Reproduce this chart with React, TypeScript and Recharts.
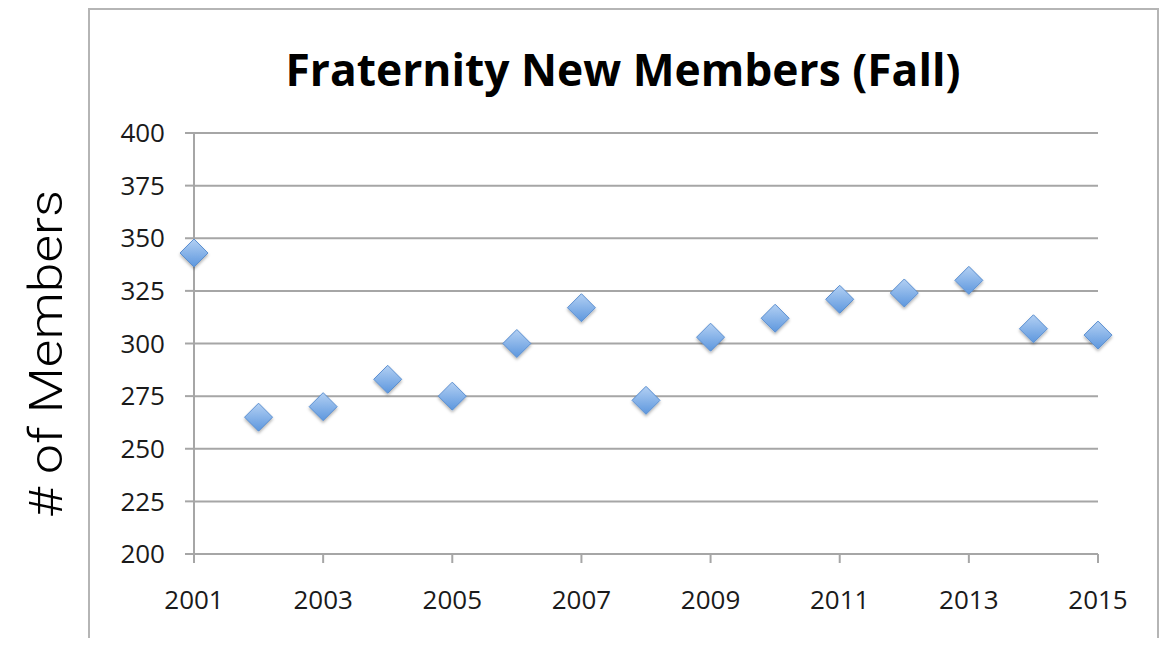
import React from "react";
import { ScatterChart, Scatter, XAxis, YAxis, CartesianGrid } from "recharts";

const years = [2001, 2002, 2003, 2004, 2005, 2006, 2007, 2008, 2009, 2010, 2011, 2012, 2013, 2014, 2015];
const members = [343, 265, 270, 283, 275, 300, 317, 273, 303, 312, 321, 324, 330, 307, 304];
const xTicks = [2001, 2003, 2005, 2007, 2009, 2011, 2013, 2015];
const yTicks = [200, 225, 250, 275, 300, 325, 350, 375, 400];

const data = years.map((y, i) => ({ year: y, members: members[i] }));

const Diamond = (props: any) => {
  const { cx, cy } = props;
  const r = 14;
  const d = `M${cx},${cy - r} L${cx + r},${cy} L${cx},${cy + r} L${cx - r},${cy} Z`;
  return (
    <g>
      <path d={d} fill="url(#diamondGrad)" stroke="#5b8fd0" strokeWidth={1} filter="url(#dshadow)" />
    </g>
  );
};

const AXIS_COLOR = "#a6a6a6";
const tickFont = { fontFamily: "'Open Sans', sans-serif", fontSize: 26, fill: "#1a1a1a" };

export default function App() {
  return (
    <div style={{ position: "relative", width: 1170, height: 646, margin: -8, background: "#fff", overflow: "hidden" }}>
      <div
        style={{
          position: "absolute",
          left: 88,
          top: 8,
          width: 1071,
          height: 700,
          border: "2px solid #b5b5b5",
          boxSizing: "border-box",
        }}
      />
      <div style={{ position: "absolute", left: 0, top: 0 }}>
        <ScatterChart width={1170} height={646} margin={{ top: 133, right: 72, bottom: 62, left: 134 }}>
          <defs>
            <linearGradient id="diamondGrad" x1="0" y1="0" x2="0" y2="1">
              <stop offset="0%" stopColor="#b3d0f3" />
              <stop offset="100%" stopColor="#5d97de" />
            </linearGradient>
            <filter id="dshadow" x="-50%" y="-50%" width="200%" height="200%">
              <feDropShadow dx="0" dy="2" stdDeviation="1.5" floodColor="#000" floodOpacity="0.3" />
            </filter>
          </defs>
          <text
            x={623}
            y={86}
            textAnchor="middle"
            textLength={675}
            lengthAdjust="spacingAndGlyphs"
            style={{ fontFamily: "'Open Sans', sans-serif", fontWeight: 700, fontSize: 44, fill: "#000" }}
          >
            Fraternity New Members (Fall)
          </text>
          <text
            x={0}
            y={0}
            transform="translate(62,354) rotate(-90)"
            textAnchor="middle"
            textLength={328}
            lengthAdjust="spacingAndGlyphs"
            style={{ fontFamily: "Roboto, 'Open Sans', sans-serif", fontWeight: 300, fontSize: 46, fill: "#000" }}
          >
            # of Members
          </text>
          <CartesianGrid vertical={false} stroke={AXIS_COLOR} strokeWidth={2} />
          <XAxis
            type="number"
            dataKey="year"
            domain={[2001, 2015]}
            ticks={xTicks}
            interval={0}
            tickSize={9}
            tickMargin={28}
            axisLine={{ stroke: AXIS_COLOR, strokeWidth: 2 }}
            tickLine={{ stroke: AXIS_COLOR, strokeWidth: 2 }}
            tick={tickFont}
          />
          <YAxis
            type="number"
            dataKey="members"
            domain={[200, 400]}
            ticks={yTicks}
            interval={0}
            width={60}
            tickSize={9}
            tickMargin={20}
            axisLine={{ stroke: AXIS_COLOR, strokeWidth: 2 }}
            tickLine={{ stroke: AXIS_COLOR, strokeWidth: 2 }}
            tick={tickFont}
          />
          <Scatter data={data} shape={<Diamond />} isAnimationActive={false} />
        </ScatterChart>
      </div>
    </div>
  );
}
